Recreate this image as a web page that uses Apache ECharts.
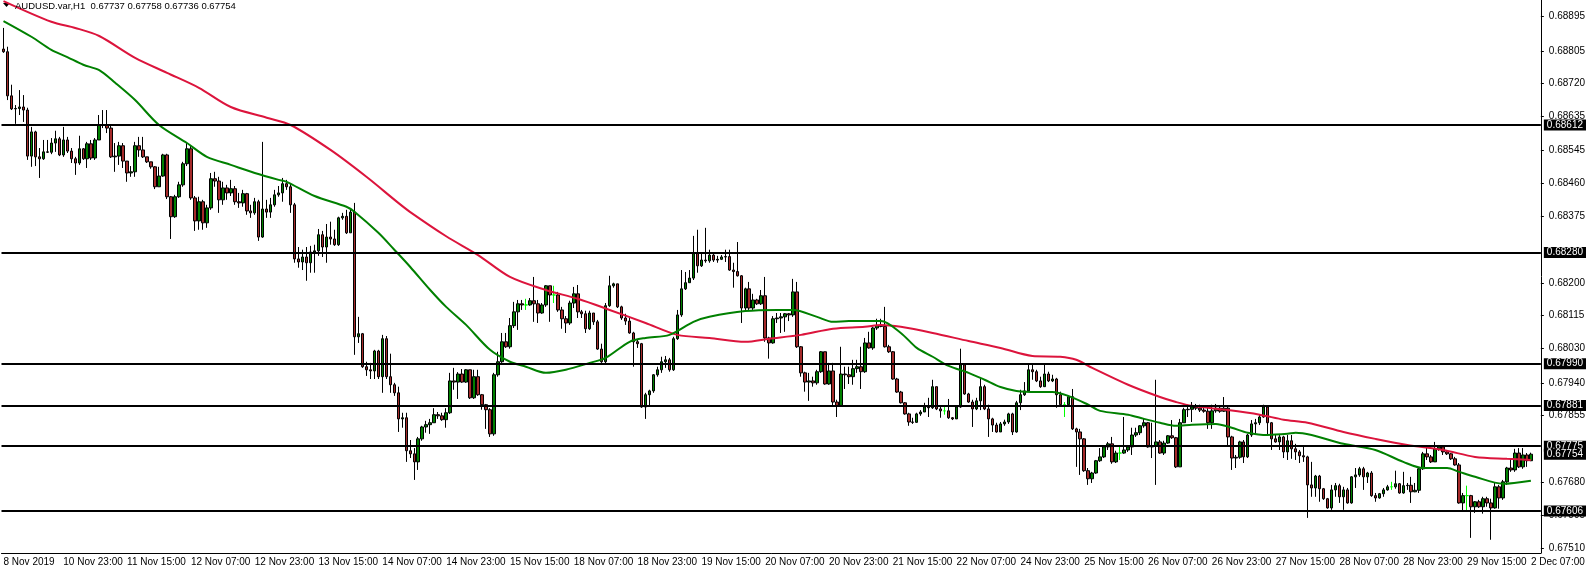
<!DOCTYPE html>
<html><head><meta charset="utf-8">
<script src="https://cdn.jsdelivr.net/npm/echarts@6/dist/echarts.min.js"></script>
<style>html,body{margin:0;padding:0;background:#fff}#c{width:1588px;height:571px}</style>
</head><body><div id="c"></div>
<script>
const symbolName = 'AUDUSD.var,H1';
const timeTickIndex = [0,15,31,47,63,79,95,111,127,143,159,175,191,207,223,239,255,271,287,303,319,335,351,367,383];
const timeTickLabels = ['8 Nov 2019','10 Nov 23:00','11 Nov 15:00','12 Nov 07:00','12 Nov 23:00','13 Nov 15:00','14 Nov 07:00','14 Nov 23:00','15 Nov 15:00','18 Nov 07:00','18 Nov 23:00','19 Nov 15:00','20 Nov 07:00','20 Nov 23:00','21 Nov 15:00','22 Nov 07:00','24 Nov 23:00','25 Nov 15:00','26 Nov 07:00','26 Nov 23:00','27 Nov 15:00','28 Nov 07:00','28 Nov 23:00','29 Nov 15:00','2 Dec 07:00'];
// price scale labels visible on the right axis (the ones hidden behind level boxes are left out)
const priceTickValues = [0.68895,0.68805,0.68720,0.68635,0.68545,0.68460,0.68375,0.68200,0.68115,0.68030,0.67940,0.67855,0.67680,0.67595,0.67510];
const levelLines = [0.68612,0.68280,0.67990,0.67881,0.67775,0.67606];

const opens = [
0.68810,0.68803,0.68688,0.68654,0.68655,0.68659,0.68651,0.68531,0.68594,0.68529,0.68524,0.68542,0.68541,0.68565,0.68576,0.68534,
0.68573,0.68544,0.68524,0.68513,0.68550,0.68524,0.68563,0.68526,0.68573,0.68612,0.68613,0.68604,0.68529,0.68531,0.68558,0.68518,
0.68487,0.68490,0.68558,0.68547,0.68529,0.68516,0.68503,0.68451,0.68479,0.68534,0.68425,0.68373,0.68425,0.68456,0.68511,0.68550,
0.68422,0.68362,0.68412,0.68357,0.68396,0.68472,0.68466,0.68417,0.68448,0.68435,0.68446,0.68412,0.68409,0.68433,0.68388,0.68383,
0.68412,0.68320,0.68393,0.68385,0.68404,0.68430,0.68435,0.68459,0.68451,0.68404,0.68263,0.68255,0.68268,0.68253,0.68281,0.68284,
0.68326,0.68294,0.68320,0.68315,0.68300,0.68370,0.68374,0.68331,0.68385,0.68060,0.68068,0.67982,0.67974,0.67971,0.68023,0.67956,
0.68055,0.67956,0.67935,0.67914,0.67846,0.67849,0.67763,0.67755,0.67734,0.67794,0.67825,0.67831,0.67836,0.67857,0.67854,0.67844,
0.67862,0.67945,0.67942,0.67963,0.67942,0.67974,0.67901,0.67956,0.67909,0.67883,0.67870,0.67807,0.67961,0.67995,0.68047,0.68034,
0.68089,0.68125,0.68146,0.68143,0.68143,0.68154,0.68146,0.68122,0.68143,0.68193,0.68169,0.68169,0.68130,0.68107,0.68096,0.68148,
0.68172,0.68125,0.68120,0.68081,0.68122,0.68099,0.68028,0.67995,0.68141,0.68193,0.68198,0.68138,0.68109,0.68101,0.68070,0.68047,
0.68042,0.67877,0.67909,0.67919,0.67961,0.67974,0.67995,0.68000,0.67974,0.68055,0.68117,0.68185,0.68201,0.68213,0.68279,0.68245,
0.68260,0.68258,0.68273,0.68260,0.68262,0.68268,0.68269,0.68234,0.68230,0.68219,0.68135,0.68185,0.68135,0.68156,0.68146,0.68167,
0.68057,0.68044,0.68107,0.68109,0.68112,0.68120,0.68117,0.68177,0.68034,0.67966,0.67942,0.67945,0.67940,0.67969,0.68021,0.67937,
0.67971,0.67890,0.67880,0.67963,0.67961,0.67956,0.67977,0.67982,0.67969,0.68044,0.68031,0.68083,0.68089,0.68087,0.68034,0.68021,
0.67950,0.67916,0.67888,0.67859,0.67838,0.67837,0.67859,0.67864,0.67877,0.67875,0.67930,0.67872,0.67867,0.67867,0.67849,0.67846,
0.67877,0.67987,0.67911,0.67890,0.67872,0.67893,0.67930,0.67872,0.67846,0.67830,0.67812,0.67833,0.67838,0.67859,0.67812,0.67888,
0.67909,0.67919,0.67974,0.67969,0.67945,0.67930,0.67963,0.67945,0.67950,0.67909,0.67883,0.67883,0.67904,0.67820,0.67812,0.67794,
0.67711,0.67690,0.67705,0.67737,0.67747,0.67773,0.67781,0.67734,0.67757,0.67757,0.67765,0.67773,0.67804,0.67810,0.67828,0.67836,
0.67773,0.67775,0.67786,0.67757,0.67783,0.67802,0.67797,0.67721,0.67836,0.67870,0.67871,0.67877,0.67874,0.67869,0.67866,0.67836,
0.67867,0.67874,0.67866,0.67874,0.67799,0.67744,0.67746,0.67786,0.67747,0.67804,0.67833,0.67836,0.67851,0.67877,0.67836,0.67794,
0.67786,0.67799,0.67760,0.67789,0.67768,0.67760,0.67750,0.67747,0.67674,0.67666,0.67697,0.67664,0.67638,0.67614,0.67661,0.67672,
0.67643,0.67661,0.67627,0.67695,0.67700,0.67716,0.67695,0.67705,0.67646,0.67640,0.67651,0.67661,0.67669,0.67669,0.67677,0.67653,
0.67672,0.67673,0.67656,0.67660,0.67716,0.67755,0.67747,0.67734,0.67768,0.67773,0.67760,0.67755,0.67742,0.67726,0.67627,0.67646,
0.67646,0.67617,0.67630,0.67617,0.67638,0.67627,0.67614,0.67669,0.67640,0.67682,0.67718,0.67713,0.67757,0.67721,0.67752,0.67737];

const highs = [
0.68865,0.68816,0.68717,0.68664,0.68703,0.68690,0.68657,0.68607,0.68597,0.68552,0.68573,0.68573,0.68578,0.68597,0.68581,0.68607,
0.68581,0.68552,0.68529,0.68584,0.68552,0.68568,0.68573,0.68578,0.68638,0.68651,0.68651,0.68612,0.68565,0.68568,0.68565,0.68518,
0.68505,0.68568,0.68581,0.68581,0.68529,0.68516,0.68505,0.68503,0.68537,0.68537,0.68427,0.68430,0.68464,0.68516,0.68565,0.68560,
0.68427,0.68425,0.68417,0.68404,0.68487,0.68490,0.68477,0.68464,0.68456,0.68469,0.68453,0.68435,0.68443,0.68435,0.68404,0.68422,
0.68417,0.68568,0.68417,0.68422,0.68443,0.68453,0.68474,0.68469,0.68459,0.68409,0.68294,0.68287,0.68294,0.68297,0.68300,0.68341,
0.68336,0.68354,0.68360,0.68339,0.68373,0.68383,0.68391,0.68391,0.68409,0.68112,0.68070,0.67995,0.67992,0.68026,0.68026,0.68065,
0.68062,0.68016,0.67940,0.67930,0.67862,0.67862,0.67791,0.67770,0.67799,0.67828,0.67841,0.67846,0.67874,0.67864,0.67862,0.67874,
0.67966,0.67979,0.67968,0.67976,0.67976,0.67974,0.67974,0.67974,0.67911,0.67885,0.67874,0.67966,0.68021,0.68070,0.68070,0.68109,
0.68151,0.68156,0.68156,0.68159,0.68161,0.68216,0.68156,0.68148,0.68195,0.68193,0.68193,0.68177,0.68138,0.68114,0.68154,0.68190,
0.68195,0.68130,0.68128,0.68128,0.68122,0.68104,0.68042,0.68148,0.68219,0.68201,0.68198,0.68141,0.68120,0.68109,0.68073,0.68052,
0.68044,0.67914,0.67922,0.67963,0.67982,0.68008,0.68010,0.68005,0.68060,0.68130,0.68234,0.68229,0.68234,0.68323,0.68339,0.68281,
0.68344,0.68287,0.68279,0.68271,0.68273,0.68287,0.68287,0.68253,0.68307,0.68221,0.68188,0.68203,0.68172,0.68159,0.68182,0.68216,
0.68060,0.68114,0.68122,0.68122,0.68122,0.68122,0.68211,0.68203,0.68036,0.67969,0.67966,0.67956,0.67974,0.68023,0.68021,0.67992,
0.67992,0.67896,0.68034,0.67982,0.67982,0.68000,0.68000,0.68034,0.68057,0.68073,0.68086,0.68107,0.68107,0.68138,0.68039,0.68023,
0.67953,0.67919,0.67890,0.67862,0.67849,0.67862,0.67869,0.67888,0.67901,0.67948,0.67930,0.67877,0.67877,0.67898,0.67851,0.67880,
0.68029,0.67990,0.67914,0.67896,0.67901,0.67953,0.67935,0.67883,0.67849,0.67836,0.67838,0.67844,0.67862,0.67862,0.67893,0.67922,
0.67942,0.67990,0.67987,0.67974,0.67956,0.67987,0.67969,0.67961,0.67953,0.67917,0.67890,0.67906,0.67924,0.67823,0.67820,0.67796,
0.67718,0.67708,0.67739,0.67770,0.67776,0.67786,0.67799,0.67763,0.67778,0.67851,0.67778,0.67823,0.67823,0.67830,0.67846,0.67838,
0.67836,0.67948,0.67791,0.67789,0.67804,0.67843,0.67799,0.67846,0.67875,0.67883,0.67890,0.67885,0.67883,0.67877,0.67877,0.67883,
0.67885,0.67877,0.67903,0.67877,0.67802,0.67752,0.67789,0.67791,0.67807,0.67843,0.67846,0.67857,0.67883,0.67880,0.67838,0.67804,
0.67804,0.67802,0.67804,0.67804,0.67781,0.67765,0.67773,0.67750,0.67734,0.67700,0.67700,0.67666,0.67640,0.67674,0.67679,0.67677,
0.67669,0.67666,0.67697,0.67718,0.67721,0.67721,0.67708,0.67710,0.67653,0.67653,0.67666,0.67674,0.67682,0.67711,0.67679,0.67708,
0.67679,0.67695,0.67679,0.67718,0.67760,0.67773,0.67752,0.67786,0.67778,0.67776,0.67765,0.67757,0.67747,0.67731,0.67653,0.67672,
0.67648,0.67632,0.67635,0.67643,0.67643,0.67638,0.67679,0.67674,0.67687,0.67721,0.67742,0.67768,0.67770,0.67770,0.67757,0.67758];

const lows = [
0.68800,0.68677,0.68651,0.68615,0.68638,0.68620,0.68521,0.68503,0.68505,0.68474,0.68521,0.68539,0.68536,0.68542,0.68531,0.68529,
0.68539,0.68513,0.68482,0.68508,0.68521,0.68500,0.68521,0.68521,0.68573,0.68604,0.68591,0.68526,0.68490,0.68508,0.68500,0.68464,
0.68477,0.68477,0.68529,0.68526,0.68513,0.68498,0.68445,0.68451,0.68477,0.68419,0.68315,0.68370,0.68422,0.68451,0.68505,0.68417,
0.68336,0.68339,0.68339,0.68344,0.68391,0.68451,0.68383,0.68404,0.68417,0.68427,0.68404,0.68396,0.68399,0.68378,0.68370,0.68378,
0.68310,0.68318,0.68370,0.68370,0.68399,0.68425,0.68412,0.68443,0.68383,0.68253,0.68240,0.68234,0.68206,0.68227,0.68227,0.68271,
0.68268,0.68253,0.68300,0.68297,0.68297,0.68365,0.68328,0.68331,0.68013,0.68044,0.67979,0.67958,0.67950,0.67950,0.67950,0.67914,
0.67950,0.67914,0.67906,0.67812,0.67823,0.67734,0.67744,0.67687,0.67713,0.67789,0.67810,0.67807,0.67836,0.67846,0.67841,0.67823,
0.67859,0.67922,0.67898,0.67940,0.67940,0.67898,0.67898,0.67906,0.67870,0.67820,0.67799,0.67802,0.67956,0.67992,0.68031,0.68029,
0.68083,0.68078,0.68130,0.68130,0.68141,0.68099,0.68096,0.68120,0.68138,0.68099,0.68148,0.68125,0.68081,0.68070,0.68091,0.68135,
0.68109,0.68109,0.68070,0.68078,0.68091,0.68026,0.67992,0.67990,0.68138,0.68188,0.68135,0.68104,0.68091,0.68068,0.67982,0.68031,
0.67875,0.67846,0.67877,0.67914,0.67956,0.67966,0.67979,0.67969,0.67971,0.68052,0.68112,0.68182,0.68201,0.68208,0.68227,0.68242,
0.68253,0.68253,0.68255,0.68253,0.68260,0.68255,0.68232,0.68188,0.68217,0.68096,0.68130,0.68130,0.68130,0.68143,0.68143,0.68047,
0.68003,0.68042,0.68096,0.68070,0.68073,0.68101,0.68112,0.68031,0.67956,0.67917,0.67893,0.67930,0.67935,0.67966,0.67935,0.67935,
0.67877,0.67851,0.67877,0.67924,0.67937,0.67935,0.67966,0.67924,0.67966,0.68029,0.68026,0.68078,0.68085,0.68032,0.68018,0.67948,
0.67914,0.67886,0.67857,0.67828,0.67833,0.67836,0.67854,0.67864,0.67851,0.67872,0.67869,0.67849,0.67857,0.67846,0.67843,0.67846,
0.67875,0.67909,0.67888,0.67825,0.67869,0.67869,0.67869,0.67799,0.67812,0.67810,0.67812,0.67828,0.67833,0.67804,0.67810,0.67869,
0.67906,0.67917,0.67948,0.67942,0.67927,0.67930,0.67942,0.67942,0.67875,0.67877,0.67851,0.67877,0.67817,0.67721,0.67700,0.67708,
0.67674,0.67679,0.67703,0.67734,0.67744,0.67765,0.67729,0.67731,0.67739,0.67755,0.67760,0.67752,0.67799,0.67804,0.67823,0.67771,
0.67744,0.67674,0.67755,0.67752,0.67781,0.67794,0.67718,0.67721,0.67836,0.67851,0.67838,0.67869,0.67864,0.67862,0.67820,0.67820,
0.67862,0.67862,0.67864,0.67778,0.67713,0.67718,0.67742,0.67731,0.67744,0.67799,0.67807,0.67830,0.67849,0.67804,0.67765,0.67784,
0.67765,0.67744,0.67739,0.67742,0.67739,0.67731,0.67734,0.67588,0.67643,0.67643,0.67630,0.67635,0.67612,0.67609,0.67643,0.67627,
0.67609,0.67625,0.67625,0.67666,0.67695,0.67661,0.67679,0.67643,0.67630,0.67638,0.67643,0.67659,0.67661,0.67664,0.67651,0.67651,
0.67661,0.67627,0.67655,0.67653,0.67713,0.67739,0.67731,0.67734,0.67763,0.67752,0.67752,0.67739,0.67724,0.67625,0.67604,0.67604,
0.67536,0.67601,0.67614,0.67599,0.67617,0.67531,0.67612,0.67612,0.67635,0.67674,0.67708,0.67708,0.67718,0.67716,0.67721,0.67736];

const closes = [
0.68803,0.68688,0.68654,0.68655,0.68659,0.68651,0.68531,0.68594,0.68529,0.68524,0.68542,0.68541,0.68565,0.68576,0.68534,0.68573,
0.68544,0.68524,0.68513,0.68550,0.68524,0.68563,0.68526,0.68573,0.68612,0.68613,0.68604,0.68529,0.68531,0.68558,0.68518,0.68487,
0.68490,0.68558,0.68547,0.68529,0.68516,0.68503,0.68451,0.68479,0.68534,0.68425,0.68373,0.68425,0.68456,0.68511,0.68550,0.68422,
0.68362,0.68412,0.68357,0.68396,0.68472,0.68466,0.68417,0.68448,0.68435,0.68446,0.68412,0.68409,0.68433,0.68388,0.68383,0.68412,
0.68320,0.68393,0.68385,0.68404,0.68430,0.68435,0.68459,0.68451,0.68404,0.68263,0.68255,0.68268,0.68253,0.68281,0.68284,0.68326,
0.68294,0.68320,0.68315,0.68300,0.68370,0.68374,0.68331,0.68385,0.68060,0.68068,0.67982,0.67974,0.67971,0.68023,0.67956,0.68055,
0.67956,0.67935,0.67914,0.67846,0.67849,0.67763,0.67755,0.67734,0.67794,0.67825,0.67831,0.67836,0.67857,0.67854,0.67844,0.67862,
0.67945,0.67942,0.67963,0.67942,0.67974,0.67901,0.67956,0.67909,0.67883,0.67870,0.67807,0.67961,0.67995,0.68047,0.68034,0.68089,
0.68125,0.68146,0.68143,0.68143,0.68154,0.68146,0.68122,0.68143,0.68193,0.68169,0.68169,0.68130,0.68107,0.68096,0.68148,0.68172,
0.68125,0.68120,0.68081,0.68122,0.68099,0.68028,0.67995,0.68141,0.68193,0.68198,0.68138,0.68109,0.68101,0.68070,0.68047,0.68042,
0.67877,0.67909,0.67919,0.67961,0.67974,0.67995,0.68000,0.67974,0.68055,0.68117,0.68185,0.68201,0.68213,0.68279,0.68245,0.68260,
0.68258,0.68273,0.68260,0.68262,0.68268,0.68269,0.68234,0.68230,0.68219,0.68135,0.68185,0.68135,0.68156,0.68146,0.68167,0.68057,
0.68044,0.68107,0.68109,0.68112,0.68120,0.68117,0.68177,0.68034,0.67966,0.67942,0.67945,0.67940,0.67969,0.68021,0.67937,0.67971,
0.67890,0.67880,0.67963,0.67961,0.67956,0.67977,0.67982,0.67969,0.68044,0.68031,0.68083,0.68089,0.68087,0.68034,0.68021,0.67950,
0.67916,0.67888,0.67859,0.67838,0.67837,0.67859,0.67864,0.67877,0.67875,0.67930,0.67872,0.67867,0.67867,0.67849,0.67846,0.67877,
0.67987,0.67911,0.67890,0.67872,0.67893,0.67930,0.67872,0.67846,0.67830,0.67812,0.67833,0.67838,0.67859,0.67812,0.67888,0.67909,
0.67919,0.67974,0.67969,0.67945,0.67930,0.67963,0.67945,0.67950,0.67909,0.67883,0.67883,0.67904,0.67820,0.67812,0.67794,0.67711,
0.67690,0.67705,0.67737,0.67747,0.67773,0.67781,0.67734,0.67757,0.67757,0.67765,0.67773,0.67804,0.67810,0.67828,0.67836,0.67773,
0.67775,0.67786,0.67757,0.67783,0.67802,0.67797,0.67721,0.67836,0.67870,0.67871,0.67877,0.67874,0.67869,0.67866,0.67836,0.67867,
0.67874,0.67866,0.67874,0.67799,0.67744,0.67746,0.67786,0.67747,0.67804,0.67833,0.67836,0.67851,0.67877,0.67836,0.67794,0.67786,
0.67799,0.67760,0.67789,0.67768,0.67760,0.67750,0.67747,0.67674,0.67666,0.67697,0.67664,0.67638,0.67614,0.67661,0.67672,0.67643,
0.67661,0.67627,0.67695,0.67700,0.67716,0.67695,0.67705,0.67646,0.67640,0.67651,0.67661,0.67669,0.67669,0.67677,0.67653,0.67672,
0.67673,0.67656,0.67660,0.67716,0.67755,0.67747,0.67734,0.67768,0.67773,0.67760,0.67755,0.67742,0.67726,0.67627,0.67646,0.67646,
0.67617,0.67630,0.67617,0.67638,0.67627,0.67614,0.67669,0.67640,0.67682,0.67718,0.67713,0.67757,0.67721,0.67752,0.67737,0.67754];

// moving averages, read at sample bars: [bar index, value]
const maSlow = [[0,0.68935],[12,0.68881],[18,0.68865],[24,0.68844],[33,0.68787],[41,0.68748],[49,0.68709],[57,0.68659],[66,0.68631],[72,0.68612],[82,0.68547],[91,0.68477],[99,0.68409],[102,0.68385],[111,0.68322],[119,0.68273],[127,0.68216],[136,0.68182],[144,0.68159],[152,0.68130],[161,0.68096],[169,0.68065],[177,0.68057],[186,0.68047],[192,0.68055],[200,0.68065],[208,0.68081],[216,0.68086],[220,0.68091],[225,0.68086],[233,0.68070],[242,0.68049],[250,0.68031],[258,0.68010],[265,0.68008],[269,0.68000],[273,0.67979],[282,0.67935],[290,0.67903],[294,0.67890],[298,0.67880],[307,0.67869],[315,0.67857],[321,0.67844],[327,0.67836],[336,0.67812],[344,0.67794],[352,0.67778],[361,0.67765],[369,0.67747],[377,0.67742],[383,0.67739]];
const maFast = [[0,0.68883],[7,0.68842],[12,0.68808],[16,0.68789],[20,0.68769],[24,0.68755],[28,0.68722],[33,0.68677],[39,0.68612],[46,0.68565],[51,0.68529],[57,0.68508],[63,0.68487],[69,0.68469],[71,0.68464],[78,0.68427],[86,0.68399],[88,0.68386],[94,0.68331],[98,0.68287],[102,0.68242],[107,0.68182],[111,0.68138],[116,0.68091],[122,0.68026],[127,0.67995],[131,0.67982],[136,0.67966],[141,0.67974],[147,0.67992],[151,0.68005],[157,0.68047],[161,0.68057],[167,0.68065],[173,0.68099],[177,0.68112],[186,0.68127],[194,0.68130],[198,0.68130],[204,0.68112],[208,0.68099],[212,0.68101],[220,0.68101],[225,0.68070],[229,0.68031],[233,0.68008],[237,0.67984],[242,0.67966],[246,0.67948],[250,0.67929],[254,0.67919],[259,0.67916],[263,0.67916],[267,0.67906],[272,0.67883],[275,0.67867],[282,0.67857],[286,0.67846],[290,0.67836],[294,0.67828],[298,0.67831],[304,0.67833],[308,0.67823],[312,0.67810],[317,0.67804],[322,0.67807],[324,0.67810],[328,0.67804],[336,0.67781],[344,0.67765],[351,0.67734],[356,0.67718],[362,0.67718],[365,0.67708],[369,0.67695],[376,0.67677],[383,0.67685]];

const N = opens.length;
const categories = [];
for (let i = 0; i < N + 2; i++) categories.push(i);
const labelMap = {};
timeTickIndex.forEach((idx, j) => { labelMap[idx] = timeTickLabels[j]; });
const showTick = (i) => labelMap[i] !== undefined;

const LIME = '#00FF00';
const candleData = opens.map((o, i) => {
  const v = [o, closes[i], lows[i], highs[i]];
  if (o === closes[i]) {
    return { value: v, itemStyle: { color: LIME, color0: LIME, borderColor: LIME, borderColor0: LIME, borderColorDoji: LIME } };
  }
  return v;
});
const last = N - 1;
const f5 = (v) => v.toFixed(5);
const headerText = symbolName + '  ' + f5(opens[last]) + ' ' + f5(highs[last]) + ' ' + f5(lows[last]) + ' ' + f5(closes[last]);

const FONT = 'Liberation Sans, Arial, sans-serif';
const boxLabel = { show: true, position: 'end', distance: 3, formatter: (p) => f5(p.value), backgroundColor: '#000', color: '#fff', padding: [0, 3, 0, 3], lineHeight: 11, fontSize: 10, fontFamily: FONT };

const chart = echarts.init(document.getElementById('c'), null, { renderer: 'canvas' });
chart.setOption({
  animation: false,
  backgroundColor: '#ffffff',
  textStyle: { fontFamily: FONT },
  title: { text: headerText, left: 15, top: 1, padding: 0, textStyle: { fontSize: 9.5, fontWeight: 'normal', color: '#000', fontFamily: FONT } },
  graphic: [{ type: 'polygon', shape: { points: [[3, 3], [10, 3], [6.5, 7]] }, style: { fill: '#000' } }],
  grid: { left: 1.5, top: 0, width: 1544, height: 553 },
  xAxis: {
    type: 'category', data: categories, boundaryGap: true,
    axisLine: { lineStyle: { color: '#000', width: 1 } },
    axisTick: { alignWithLabel: true, interval: showTick, length: 4, lineStyle: { color: '#000' } },
    axisLabel: { interval: showTick, formatter: (v, i) => labelMap[i] || '', align: 'left', margin: 4, color: '#000', fontSize: 10, fontFamily: FONT },
    splitLine: { show: false }
  },
  yAxis: {
    type: 'value', position: 'right', min: 0.674965, max: 0.689378,
    axisLine: { show: true, lineStyle: { color: '#000', width: 1 } },
    axisTick: { show: true, customValues: priceTickValues, length: 3, lineStyle: { color: '#000' } },
    axisLabel: { customValues: priceTickValues, formatter: (v) => v.toFixed(5), margin: 8, color: '#000', fontSize: 10, fontFamily: FONT },
    splitLine: { show: false }
  },
  series: [
    {
      type: 'candlestick', data: candleData, barWidth: 3, z: 2,
      itemStyle: { color: '#008000', color0: '#A52A2A', borderColor: '#000', borderColor0: '#000', borderColorDoji: '#000', borderWidth: 1 }
    },
    { type: 'line', data: maSlow, symbol: 'none', smooth: 0.3, z: 3, lineStyle: { color: '#DC143C', width: 2 } },
    { type: 'line', data: maFast, symbol: 'none', smooth: 0.3, z: 3, lineStyle: { color: '#008000', width: 2 } },
    {
      type: 'line', data: [], z: 4, symbol: 'none',
      markLine: {
        silent: true, symbol: ['none', 'none'], animation: false, precision: 5,
        lineStyle: { color: '#000', width: 2, type: 'solid' },
        label: boxLabel,
        data: levelLines.map((v) => ({ yAxis: v }))
      }
    },
    {
      type: 'line', data: [], z: 5, symbol: 'none',
      markLine: {
        silent: true, symbol: ['none', 'none'], animation: false, precision: 5,
        lineStyle: { color: 'rgba(0,0,0,0)', width: 1, type: 'solid' },
        label: boxLabel,
        data: [{ yAxis: closes[last] }]
      }
    }
  ]
});
</script>
</body></html>
